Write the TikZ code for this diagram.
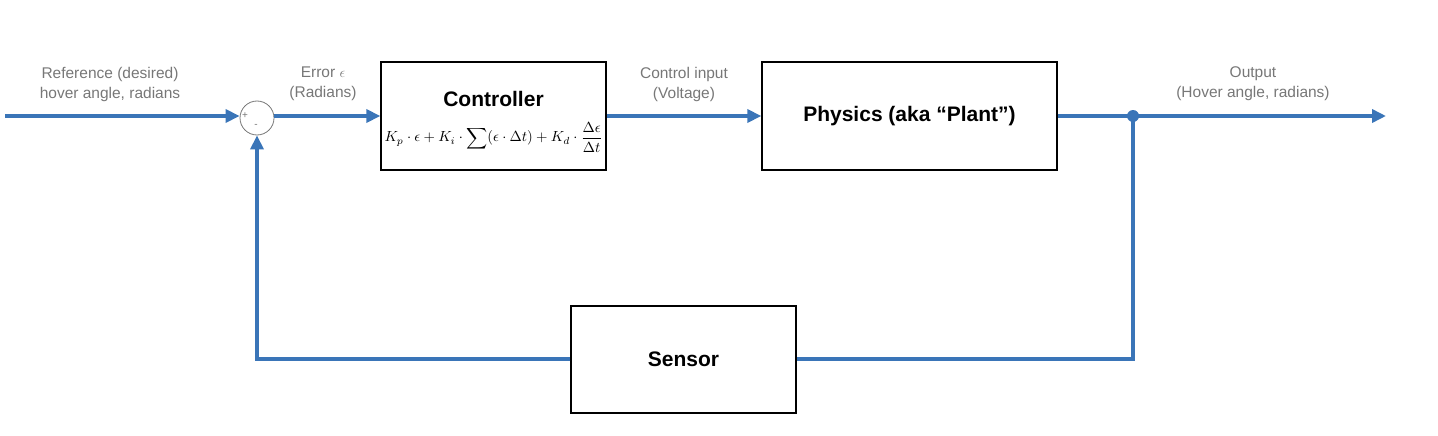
\documentclass[tikz,border=0pt]{standalone}
\usepackage{fontspec}
\setmainfont{Liberation Sans}
\usepackage{graphicx}
\usetikzlibrary{arrows.meta}
\definecolor{flow}{HTML}{3A75B8}
\definecolor{lbl}{HTML}{777777}
\begin{document}
\begin{tikzpicture}[x=1pt,y=-1pt,
  wire/.style={draw=flow,line width=3.5pt},
  arr/.style={wire,-{Triangle[length=14pt,width=13pt]}},
  blk/.style={draw,line width=1.3pt,inner sep=0pt},
  lab/.style={text=lbl,font=\fontsize{15.5}{20}\selectfont,align=center}]
\useasboundingbox (0,0) rectangle (1438,436);
\node[blk,minimum width=225pt,minimum height=108pt] (ctrl) at (493.5,116) {};
\node[font=\fontsize{21}{24}\selectfont\bfseries] (ctitle) at (493.5,99) {Controller};
\node[inner sep=0pt] (eq) at (493.5,137) {\resizebox{218pt}{!}{$K_p\cdot\epsilon+K_i\cdot\displaystyle\sum(\epsilon\cdot\Delta t)+K_d\cdot\frac{\Delta\epsilon}{\Delta t}$}};
\node[blk,minimum width=295pt,minimum height=108pt,font=\fontsize{21}{24}\selectfont\bfseries] (plant) at (909.5,116) {Physics (aka “Plant”)};
\node[blk,minimum width=225pt,minimum height=107pt,font=\fontsize{21}{24}\selectfont\bfseries] (sensor) at (683.5,359.5) {Sensor};
\node[circle,draw=lbl,line width=0.8pt,minimum size=34pt,inner sep=0pt] (sum) at (257,118) {};
\node[text=lbl,font=\fontsize{10}{11}\selectfont] (plus) at (245,116) {+};
\node[text=lbl,font=\fontsize{10}{11}\selectfont] (minus) at (256,126) {-};
\coordinate (in) at (5,116);
\coordinate (out) at (1386,116);
\coordinate (j) at (1133,116);
\coordinate (jb) at (1133,359);
\coordinate (fb) at (257,359);
\fill[flow] (j) circle (6pt);
\draw[arr] (in) -- (sum.west |- in);
\draw[arr] (sum.east |- 0,116) -- (ctrl.west |- 0,116);
\draw[arr] (ctrl.east |- 0,116) -- (plant.west |- 0,116);
\draw[arr] (plant.east |- 0,116) -- (out);
\draw[wire] (j) -- (jb) -- (sensor.east |- jb);
\draw[arr] (sensor.west |- fb) -- (fb) -- (sum.south);
\node[lab] (l1) at (110,84) {Reference (desired)\\hover angle, radians};
\node[lab] (l2) at (323,84) {Error $\epsilon$\\(Radians)};
\node[lab] (l3) at (684,84) {Control input\\(Voltage)};
\node[lab] (l4) at (1253,84) {Output\\(Hover angle, radians)};
\end{tikzpicture}
\end{document}
